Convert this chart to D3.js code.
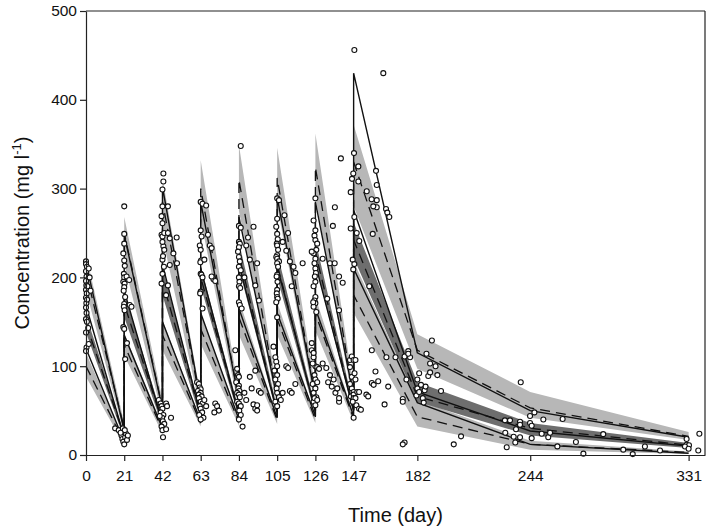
<!DOCTYPE html>
<html><head><meta charset="utf-8">
<script src="https://cdn.jsdelivr.net/npm/d3@7"></script>
<style>body{margin:0;background:#fff}svg{display:block}</style>
</head><body><svg id="c" width="709" height="531"></svg>
<script>
// ---------- DATA ----------
const xTicks = [0,21,42,63,84,105,126,147,182,244,331];
const yTicks = [0,100,200,300,400,500];
// node days: peak at each dose, trough just before next dose, then tail
const nodeDays = [0,21,21,42,42,63,63,84,84,105,105,126,126,147,147,182,244,331];
// simulated percentile confidence bands
const band95Hi = [226,36,268,62,312,66,332,70,349,72,346,74,362,75,372,136,71,26];
const band95Lo = [185,24,215,44,245,50,265,52,275,54,280,55,290,56,280,97,42,17];
const band50Hi = [158,24,183,42,212,49,213,51,240,53,228,54,242,55,262,82,36,13.5];
const band50Lo = [138,18,155,33,180,40,190,42,210,44,200,45,215,46,222,60,22,8];
const band5Hi  = [115,17,137,33,152,40,160,42,175,43,172,44,178,45,218,62,16,4];
const band5Lo  = [88,11,112,24,118,32,125,33,135,35,135,36,140,37,160,32,6,1];
// simulated percentiles (dashed)
const sim95 = [205,30,250,53,285,58,300,61,310,63,312,65,324,66,330,118,53,21];
const sim50 = [148,21,170,37,196,44,200,46,225,48,214,49,228,50,242,66,30,11];
const sim5  = [100,14,124,28,135,36,142,37,155,39,153,40,159,41,180,43,12,3];
// observed percentiles (solid)
const obs95 = [216,27,248,52,302,60,285,62,268,64,290,65,285,66,430,115,50,20];
const obs50 = [168,20,185,36,215,44,210,46,215,48,212,50,215,50,276,71,27,10];
const obs5  = [120,15,135,30,150,38,160,40,165,42,160,44,165,44,210,59,12,2];
// observed concentrations [day, mg/l]
const obsDose0 = [[0,218],[0,215],[0.5,212],[0,207],[0.3,201],[0,196],[0.2,191],[0,186],[0.4,182],[0,177],[0.2,171],[0,166],[0.3,160],[0,153],[0.5,150],[0,138],[0.3,121],[0,117],[1.5,210],[2,200],[2.5,185],[1.2,143],[1.5,125],[0.8,190],[0.6,175]];
const obsDose21 = [[16,30],[18,28],[19.5,22],[20,18],[20.5,15],[21,12],[21,26],[21.5,20],[22,24],[22.5,17],[20.2,30],[21.3,28],[23,22],[19,25],
 [21,280],[21,249],[21,238],[20.5,227],[21,219],[21.3,213],[20.8,204],[21,200],[20.5,195],[21.2,193],[21,189],[20.7,185],[21.5,178],[21,170],[20.8,167],[21.2,163],[20.5,144],[21,142],[22.5,126],[21.5,108],[22.3,201],[23.7,197],[24,169],[25,167]];
const obsDose42 = [[40,62],[41,58],[41.5,55],[42,52],[41,48],[42.5,45],[41.8,42],[42.2,38],[43,35],[41.5,32],[42,28],[42.3,20],[44,58],[44.5,55],[46.7,42],[44,29],[40.5,44],
 [42.5,317],[42.5,308],[42,299],[42,280],[41.5,269],[42,261],[41.5,248],[42,246],[43,250],[45,250],[45,280],[46,244],[49.8,245],[48,227],[50,216],[46,214],[45,191],[42,204],[41.5,193],[42,220],[44,180],[42.5,235],[42,240],[43,231],[42.3,224],[42.8,212]];
const obsDose63 = [[61,82],[62,80],[62.5,76],[63,74],[61.5,72],[63,70],[62,68],[63.5,66],[62,64],[63,60],[64,58],[62.5,55],[63,52],[63.8,48],[62.2,45],[64.5,42],[63,40],[65,62],[66,55],[71,58],[72,55],[73,50],[70.5,48],
 [63,285],[64,283],[63,253],[63.5,246],[62.5,236],[63,231],[63.2,219],[62.8,217],[63,204],[63.4,203],[63,184],[62.7,182],[64,165],[66,281],[68,236],[69,233],[67,248],[70,198],[71,196],[69,201],[64,200],[65,220]];
const obsDose84 = [[82,118],[83,97],[83.5,90],[84,88],[82.5,82],[84,78],[83.7,75],[84.3,72],[83,70],[84,68],[84.5,65],[83,60],[84,58],[85,55],[84.2,50],[85,45],[84,40],[86,32],[90,88],[91,75],[92,57],[93,52],[88,62],[87,70],
 [85,348],[84,258],[85,256],[84,240],[84.5,238],[84,234],[83.5,229],[84,223],[84.5,218],[84,212],[85,208],[84,200],[84.3,195],[84,190],[84.7,188],[84,172],[84.5,169],[85.5,165],[92,257],[94,216],[93,191],[95,174],[88,236],[90,220],[89,245],[87,200]];
const obsDose105 = [[103,122],[104,110],[104.5,105],[105,100],[103.5,95],[105,90],[104,85],[105.5,80],[104.7,75],[105,70],[106,65],[104,60],[105,55],[107,62],[108,70],[110,100],[111,98],[112,72],[113,70],[115,80],[93,95],[95,72],[96,70],[94,56],[94,50],
 [105,289],[106,287],[105,266],[104.5,257],[105,249],[105.3,243],[104.8,238],[105,236],[105.5,231],[105,225],[104.5,223],[105,221],[106,218],[105,216],[105.5,212],[105,203],[104.7,201],[105.2,195],[105,186],[104.8,182],[105,178],[105.3,176],[104.5,172],[105,155],[108,240],[110,230],[112,218],[114,212],[115,205],[111,250],[109,270],[113,190],[119,216]];
const obsDose126 = [[124,118],[125,110],[126,100],[125.5,90],[126,85],[124.5,80],[126,75],[125,70],[126.5,65],[125,60],[126,56],[124,126],[125,115],[124.5,103],[127,99],[128,97],[127,82],[125.5,64],[127,62],[130,103],[132,98],[134,90],[136,85],[137,70],[139,60],[133,82],[135,77],[138,75],[139,64],
 [126,289],[125,264],[126,253],[125.5,247],[126,242],[126.5,231],[125,227],[126,221],[125.5,216],[126,210],[126.3,205],[125.7,201],[126,195],[125,190],[126,178],[125.5,174],[126,171],[125,167],[126.5,161],[127,238],[130,221],[134,216],[136.6,216],[139,201],[141,194],[140,334],[136.7,279],[135.6,258],[132.5,176],[139,163],[124,229],[124.8,172]];
const obsDose147 = [[145,107],[146,111],[147,107],[148,107],[145,99],[146,75],[147,71],[145.5,66],[147,68],[147,64],[148,64],[149,71],[150,71],[148.5,56],[150,52],[151,51],[147,42],[154,68],[146,88],[147.5,92],[145,80],[148,85],[146.5,60],
 [147.4,456],[163.3,430],[147.2,340],[149.6,325],[146.8,317],[146.1,311],[149.6,308],[145.4,296],[159.7,287],[159.7,279],[164.8,277],[165.5,273],[166.6,268],[147.4,268],[145.4,255],[148.7,250],[157.5,249],[150.1,241],[146.5,220],[147.4,215],[146.8,209],[155.6,190],[159.3,320],[159.7,304],[154.2,297],[156.9,288],[157.8,280]];
const obsPost147 = [[157,118],[165,110],[170,110],[177,117],[175,111],[178,110],[159,94],[160.5,83],[157,81],[166,77],[164,57],[174,63],[174,60],[175,14],[176,85],[177,114],[174,12],[155,66],[158,79]];
const obsTail182 = [[182,85],[182,75],[181.5,67],[186,73],[186.5,77],[185,64],[185.5,59],[187,114],[188,89],[190,129],[192,100],[193,90],[195,72],[189,103],[189,93],[183,92],[184,79],[183,71],[202,12],[206,21]];
const obsTail244 = [[238.8,82],[243.9,44],[246.3,48],[251.2,40],[261.8,40.5],[230.1,39],[232.9,39],[238.4,37.5],[236.2,29],[238.4,34],[243.9,36],[244.8,33],[230.3,25],[234.9,20.5],[238.4,20],[235.8,14],[231.1,8.7],[244.8,19],[250.3,24],[253.9,20],[254.9,25],[258.9,9.7],[269.1,14.6],[273.2,1.5],[284.1,23.5],[295.1,6],[300.3,1],[307,9.6],[315.3,5],[329.9,18],[329.9,11.6],[331.2,11],[329,9.6],[336.9,24],[336.3,5],[331,7]];

// ---------- DRAW ----------
const svg = d3.select("#c");
const FONT = "'Liberation Sans', Arial, sans-serif";
const x = d3.scaleLinear().domain([0,340]).range([86,705]);
const y = d3.scaleLinear().domain([0,500]).range([455,11]);

const LIGHT = "#b7b7b7", DARK = "#6e6e6e";
function bandPath(lo, hi){
  return d3.area().x((d,i)=>x(nodeDays[i])).y0((d,i)=>y(lo[i])).y1((d,i)=>y(hi[i]))(nodeDays);
}
function linePath(v){
  return d3.line().x((d,i)=>x(nodeDays[i])).y((d,i)=>y(v[i]))(nodeDays);
}
const g = svg.append("g");
g.append("path").attr("d", bandPath(band95Lo, band95Hi)).attr("fill", LIGHT);
g.append("path").attr("d", bandPath(band5Lo, band5Hi)).attr("fill", LIGHT);
g.append("path").attr("d", bandPath(band50Lo, band50Hi)).attr("fill", DARK);

[sim95, sim50, sim5].forEach(s => g.append("path").attr("d", linePath(s))
  .attr("fill","none").attr("stroke","#111").attr("stroke-width",1.3).attr("stroke-dasharray","10,6"));
[obs95, obs50, obs5].forEach(s => g.append("path").attr("d", linePath(s))
  .attr("fill","none").attr("stroke","#111").attr("stroke-width",1.4));

const allObs = [].concat(obsDose0, obsDose21, obsDose42, obsDose63, obsDose84, obsDose105, obsDose126, obsDose147, obsPost147, obsTail182, obsTail244);
g.selectAll("circle").data(allObs).join("circle")
  .attr("cx", d=>x(d[0])).attr("cy", d=>y(d[1])).attr("r", 2.5)
  .attr("fill","#fff").attr("stroke","#111").attr("stroke-width",1.1);

// axes
const xAxis = svg.append("g").attr("transform","translate(0,455)")
  .call(d3.axisBottom(x).tickValues(xTicks).tickSize(6).tickSizeOuter(0).tickPadding(9));
const yAxis = svg.append("g").attr("transform","translate(86,0)")
  .call(d3.axisLeft(y).tickValues(yTicks).tickSize(6).tickSizeOuter(0).tickPadding(3));
[xAxis,yAxis].forEach(a=>{
  a.selectAll("path,line").attr("stroke","#222").attr("stroke-width",1.2);
  a.selectAll("text").attr("font-family",FONT).attr("font-size",15.5).attr("fill","#111");
});
// frame top & right
svg.append("line").attr("x1",x(0)).attr("x2",x(340)).attr("y1",y(500)).attr("y2",y(500)).attr("stroke","#222").attr("stroke-width",1.2);
svg.append("line").attr("x1",x(340)).attr("x2",x(340)).attr("y1",y(500)).attr("y2",y(0)).attr("stroke","#222").attr("stroke-width",1.2);

// titles
svg.append("text").attr("x",(x(0)+x(340))/2).attr("y",522).attr("text-anchor","middle")
  .attr("font-family",FONT).attr("font-size",20).attr("fill","#111").text("Time (day)");
const yt = svg.append("text").attr("transform",`translate(29,${(y(0)+y(500))/2}) rotate(-90)`)
  .attr("text-anchor","middle").attr("font-family",FONT).attr("font-size",20).attr("fill","#111");
yt.append("tspan").text("Concentration (mg l");
yt.append("tspan").attr("font-size",13).attr("dy",-8).text("-1");
yt.append("tspan").attr("dy",8).text(")");
</script></body></html>
